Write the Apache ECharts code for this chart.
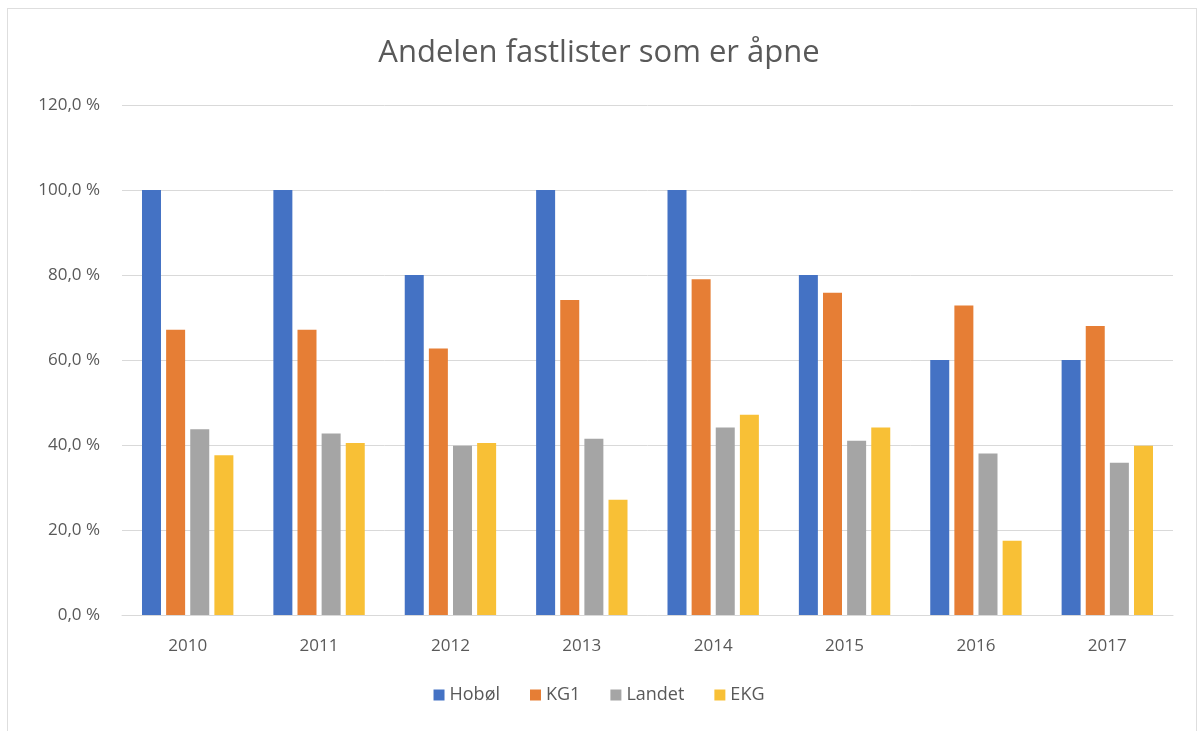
<!DOCTYPE html>
<html>
<head>
<meta charset="utf-8">
<title>Andelen fastlister som er åpne</title>
<script src="https://cdn.jsdelivr.net/npm/echarts@6/dist/echarts.min.js"></script>
<style>
  html, body { margin: 0; padding: 0; background: #fff; }
  #frame {
    position: absolute; left: 7px; top: 8px; width: 1190px; height: 740px;
    border: 1px solid #dedede; box-sizing: border-box;
  }
  #chart { position: absolute; left: 0; top: 0; width: 1198px; height: 731px; }
</style>
</head>
<body>
<div id="frame"></div>
<div id="chart"></div>
<script>
// år
const years = ['2010', '2011', '2012', '2013', '2014', '2015', '2016', '2017'];
// andel åpne lister (%)
const hobol = [100, 100, 80, 100, 100, 80, 60, 60];
const kg1 = [67.1, 67.1, 62.7, 74.1, 79.0, 75.8, 72.8, 68.0];
const landet = [43.7, 42.7, 39.8, 41.5, 44.1, 41.0, 38.0, 35.8];
const ekg = [37.6, 40.5, 40.5, 27.1, 47.1, 44.1, 17.5, 39.8];
const yTicks = [0, 20, 40, 60, 80, 100, 120];

const textColor = '#595959';
const font = '"Open Sans", "Liberation Sans", sans-serif';

function pct(v) {
  return v.toFixed(1).replace('.', ',') + ' %';
}

function bar(name, data, color) {
  return {
    name: name,
    type: 'bar',
    data: data,
    barWidth: 19,
    barGap: '27%',
    itemStyle: { color: color }
  };
}

let myChart = echarts.init(document.getElementById('chart'));
let option = {
  animation: false,
  backgroundColor: 'transparent',
  title: {
    text: 'Andelen fastlister som er åpne',
    left: 'center',
    top: 33,
    textStyle: { color: textColor, fontFamily: font, fontSize: 31, fontWeight: 'normal' }
  },
  legend: {
    data: ['Hobøl', 'KG1', 'Landet', 'EKG'],
    bottom: 22,
    left: 'center',
    itemWidth: 11,
    itemHeight: 11,
    itemGap: 30,
    icon: 'rect',
    textStyle: { color: textColor, fontFamily: font, fontSize: 18 }
  },
  grid: { left: 122, right: 25, top: 105, bottom: 116 },
  xAxis: {
    type: 'category',
    data: years,
    axisTick: { show: false },
    axisLine: { lineStyle: { color: '#d9d9d9', width: 1 } },
    axisLabel: { color: textColor, fontFamily: font, fontSize: 17, margin: 23 }
  },
  yAxis: {
    type: 'value',
    min: yTicks[0],
    max: yTicks[yTicks.length - 1],
    interval: 20,
    axisLine: { show: false },
    axisTick: { show: false },
    splitLine: { lineStyle: { color: '#d9d9d9', width: 1 } },
    axisLabel: { color: textColor, fontFamily: font, fontSize: 17, margin: 22, formatter: pct }
  },
  series: [
    bar('Hobøl', hobol, '#4472c4'),
    bar('KG1', kg1, '#e67e35'),
    bar('Landet', landet, '#a5a5a5'),
    bar('EKG', ekg, '#f8c036')
  ]
};
myChart.setOption(option);
</script>
</body>
</html>
